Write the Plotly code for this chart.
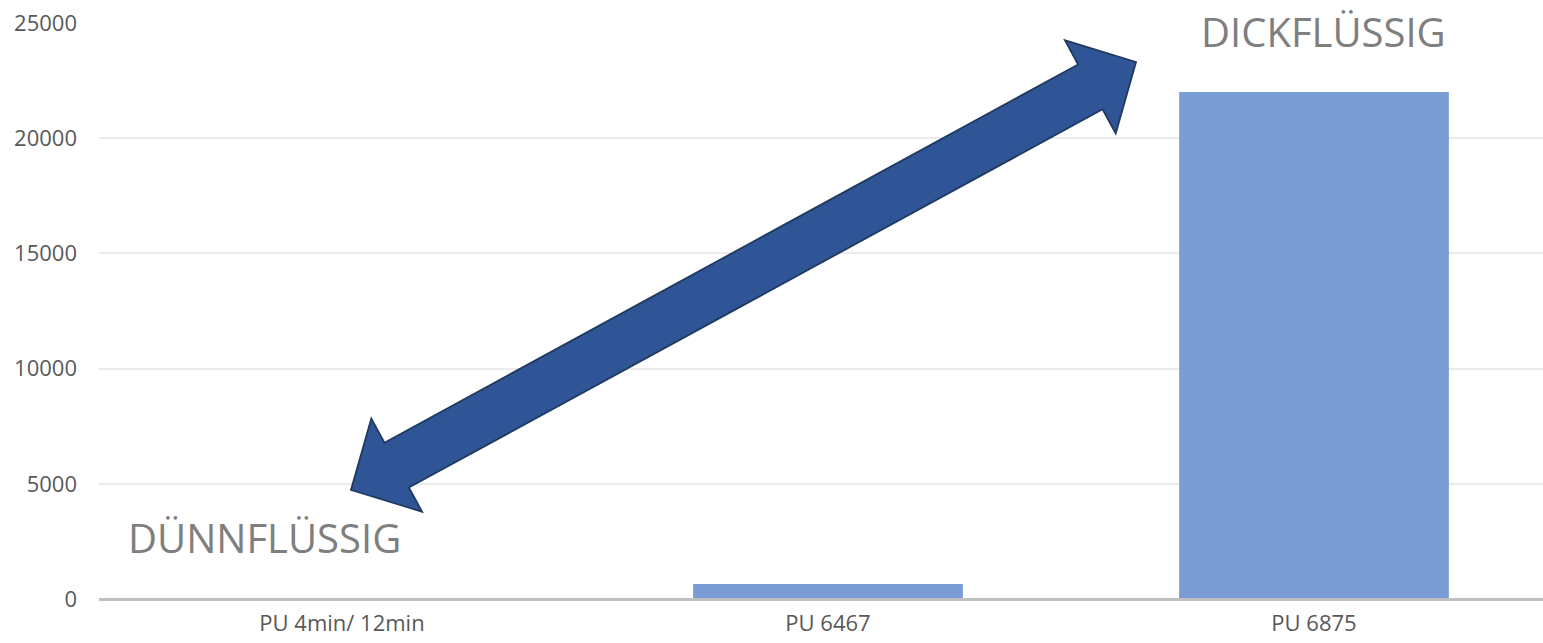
import plotly.graph_objects as go

# ---- data ----
categories = ["PU 4min/ 12min", "PU 6467", "PU 6875"]
values = [10, 650, 22000]
y_ticks = [0, 5000, 10000, 15000, 20000, 25000]
label_thin = "DÜNNFLÜSSIG"
label_thick = "DICKFLÜSSIG"

# ---- layout geometry (pixels) ----
W, H = 1543, 643
ML, MR, MT, MB = 99, 0, 23, 44
plot_w = W - ML - MR
plot_h = H - MT - MB
band_px = 486.0
x0 = -0.5
x1 = x0 + plot_w / band_px
y0, y1 = 0, 25000


def px_to_data(px, py):
    xd = x0 + (px - ML) / plot_w * (x1 - x0)
    yd = y0 + (H - MB - py) / plot_h * (y1 - y0)
    return xd, yd


# double block arrow defined in pixel space (decoration)
tipA = (351.0, 490.0)
tipB = (1136.0, 62.0)
head_len, head_half, shaft_half = 52.0, 53.0, 25.5
dx, dy = tipB[0] - tipA[0], tipB[1] - tipA[1]
L = (dx * dx + dy * dy) ** 0.5
ux, uy = dx / L, dy / L
nx, ny = -uy, ux


def pt(base, along, across):
    return (base[0] + ux * along + nx * across, base[1] + uy * along + ny * across)


pts_px = [
    tipA,
    pt(tipA, head_len, head_half),
    pt(tipA, head_len, shaft_half),
    pt(tipB, -head_len, shaft_half),
    pt(tipB, -head_len, head_half),
    tipB,
    pt(tipB, -head_len, -head_half),
    pt(tipB, -head_len, -shaft_half),
    pt(tipA, head_len, -shaft_half),
    pt(tipA, head_len, -head_half),
]
pts = [px_to_data(*p) for p in pts_px]
path = "M " + " L ".join(f"{x:.5f},{y:.3f}" for x, y in pts) + " Z"

fig = go.Figure()
fig.add_trace(go.Bar(x=categories, y=values, marker=dict(color="#7B9DD5", line=dict(width=0)),
                     hoverinfo="x+y"))

fig.add_shape(type="path", path=path, xref="x", yref="y",
              fillcolor="#2F5597", line=dict(color="#1F3A60", width=1.8), layer="above")

# baseline (category axis line) drawn on top of the bars, like the original
base_off = -0.6 / plot_h
fig.add_shape(type="line", xref="paper", yref="paper", x0=0, x1=1, y0=base_off, y1=base_off,
              line=dict(color="#BFBFBF", width=3), layer="above")

ax_thin = px_to_data(264, 537)
ax_thick = px_to_data(1323, 31)
fig.add_annotation(x=ax_thin[0], y=ax_thin[1], xref="x", yref="y", text=label_thin,
                   showarrow=False, font=dict(family="Open Sans", size=40, color="#7F7F7F"),
                   xanchor="center", yanchor="middle")
fig.add_annotation(x=ax_thick[0], y=ax_thick[1], xref="x", yref="y", text=label_thick,
                   showarrow=False, font=dict(family="Open Sans", size=40, color="#7F7F7F"),
                   xanchor="center", yanchor="middle")

fig.update_layout(
    width=W, height=H, autosize=False,
    margin=dict(l=ML, r=MR, t=MT, b=MB, pad=0),
    paper_bgcolor="white", plot_bgcolor="white",
    bargap=0.445, showlegend=False,
    font=dict(family="Open Sans", size=22, color="#595959"),
)
fig.update_xaxes(range=[x0, x1], showline=False,
                 showgrid=False, ticks="", ticklabelstandoff=9, automargin=False,
                 tickfont=dict(family="Open Sans", size=22, color="#595959"))
fig.update_yaxes(range=[y0, y1], tickvals=y_ticks, ticktext=[str(v) for v in y_ticks],
                 showgrid=True, gridcolor="#EBEBEB", gridwidth=1.5, zeroline=False,
                 showline=False, ticks="", ticklabelstandoff=21, automargin=False,
                 tickfont=dict(family="Open Sans", size=22, color="#595959"))

fig.write_html("out.html")
